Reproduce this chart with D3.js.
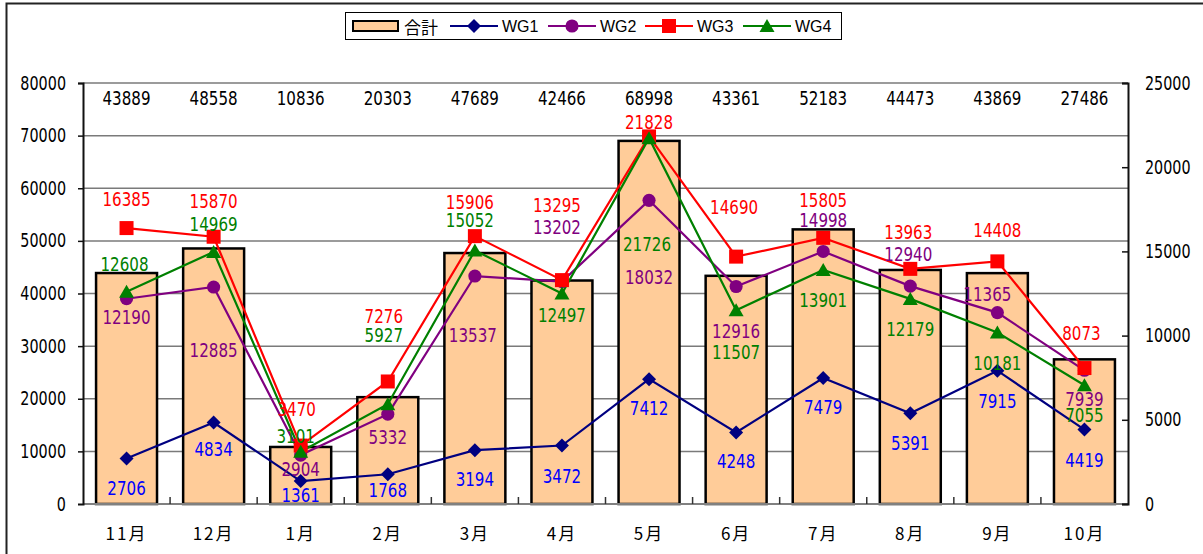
<!DOCTYPE html>
<html>
<head>
<meta charset="utf-8">
<script src="https://cdn.jsdelivr.net/npm/d3@7"></script>
<style>
  body { margin: 0; background: #fff; }
  svg { display: block; }
  .num {
    font-family: "DejaVu Sans Condensed", "DejaVu Sans", sans-serif;
    transform-box: fill-box;
    transform-origin: center;
    transform: scaleX(0.84);
  }
  .axL .num { transform-origin: right center; }
  .axR .num { transform-origin: left center; }
</style>
</head>
<body>
<div id="chart"></div>
<script>
// data
var months = ["11月", "12月", "1月", "2月", "3月", "4月", "5月", "6月", "7月", "8月", "9月", "10月"];
var total = [43889, 48558, 10836, 20303, 47689, 42466, 68998, 43361, 52183, 44473, 43869, 27486];
var wg1 = [2706, 4834, 1361, 1768, 3194, 3472, 7412, 4248, 7479, 5391, 7915, 4419];
var wg2 = [12190, 12885, 2904, 5332, 13537, 13202, 18032, 12916, 14998, 12940, 11365, 7939];
var wg3 = [16385, 15870, 3470, 7276, 15906, 13295, 21828, 14690, 15805, 13963, 14408, 8073];
var wg4 = [12608, 14969, 3101, 5927, 15052, 12497, 21726, 11507, 13901, 12179, 10181, 7055];
var leftTicks = [0, 10000, 20000, 30000, 40000, 50000, 60000, 70000, 80000];
var rightTicks = [0, 5000, 10000, 15000, 20000, 25000];

// label nudges (px from the point, label centre), hand placed like the original
var labelDy = {
    WG1: [30, 26, 14, 16, 29, 30, 29, 29, 29, 30, 30, 30],
    WG2: [18, 63, 14, 23, 59, -55, 77, 44, -31, -32, -19, 29],
    WG3: [-29, -36, -37, -66, -34, -75, -14, -50, -38, -37, -31, -35],
    WG4: [-28, -28, -16, -69, -31, 21, 106, 42, 30, 30, 30, 30]
};
var labelDx = {
    WG1: [0, 0, 0, 0, 0, 0, 0, 0, 0, 0, 0, 0],
    WG2: [0, 0, 0, 0, -2, -5, 0, 0, 0, -2, -10, 0],
    WG3: [0, 0, -4, -4, -5, -5, 0, -2, 0, -2, 0, -3],
    WG4: [-2, 0, -5, -4, -5, 0, -2, 0, 0, 0, 0, 0]
};

var series = [
    { name: "WG1", values: wg1, color: "#000080", text: "#0000ff", marker: "diamond" },
    { name: "WG2", values: wg2, color: "#800080", text: "#800080", marker: "circle" },
    { name: "WG3", values: wg3, color: "#ff0000", text: "#ff0000", marker: "square" },
    { name: "WG4", values: wg4, color: "#008000", text: "#008000", marker: "triangle" }
];

var width = 1203, height = 554;
var plot = { left: 83, right: 1128, top: 83, bottom: 504 };

var svg = d3.select("#chart").append("svg")
    .attr("width", width)
    .attr("height", height);

// outer chart frame
svg.append("rect")
    .attr("x", 6.5).attr("y", 3.5)
    .attr("width", width + 20).attr("height", height + 20)
    .attr("fill", "none").attr("stroke", "#222").attr("stroke-width", 2);

var x = d3.scaleBand()
    .domain(months)
    .range([plot.left, plot.right])
    .paddingInner(0.3)
    .paddingOuter(0.15);
var cx = function(m) { return x(m) + x.bandwidth() / 2; };

var yL = d3.scaleLinear().domain([0, 80000]).range([plot.bottom, plot.top]);
var yR = d3.scaleLinear().domain([0, 25000]).range([plot.bottom, plot.top]);

// gridlines
svg.append("g").selectAll("line")
    .data(leftTicks.filter(function(d) { return d > 0; }))
    .enter().append("line")
    .attr("x1", plot.left).attr("x2", plot.right)
    .attr("y1", function(d) { return yL(d); })
    .attr("y2", function(d) { return yL(d); })
    .attr("stroke", "#7a7a7a").attr("stroke-width", 1.5);

// bars
svg.append("g").selectAll("rect")
    .data(total)
    .enter().append("rect")
    .attr("x", function(d, i) { return x(months[i]); })
    .attr("y", function(d) { return yL(d); })
    .attr("width", x.bandwidth())
    .attr("height", function(d) { return plot.bottom - yL(d); })
    .attr("fill", "#ffcc99")
    .attr("stroke", "#000")
    .attr("stroke-width", 2.5);

// x axis line + inner ticks between categories
var step = x.step();
svg.append("line")
    .attr("x1", plot.left).attr("x2", plot.right)
    .attr("y1", plot.bottom).attr("y2", plot.bottom)
    .attr("stroke", "#808080").attr("stroke-width", 2);
svg.append("g").selectAll("line")
    .data(d3.range(1, months.length))
    .enter().append("line")
    .attr("x1", function(k) { return plot.left + k * step; })
    .attr("x2", function(k) { return plot.left + k * step; })
    .attr("y1", plot.bottom - 7).attr("y2", plot.bottom)
    .attr("stroke", "#333").attr("stroke-width", 1.5);

svg.append("g").selectAll("text")
    .data(months)
    .enter().append("text")
    .attr("x", function(d) { return cx(d); })
    .attr("y", 532)
    .attr("text-anchor", "middle")
    .attr("dominant-baseline", "central")
    .style("font-family", "'Noto Sans CJK JP', sans-serif")
    .style("font-size", "17px")
    .style("letter-spacing", "2px")
    .text(function(d) { return d; });

// left axis
var axL = svg.append("g")
    .attr("class", "axL")
    .attr("transform", "translate(" + plot.left + ",0)")
    .call(d3.axisLeft(yL).tickValues(leftTicks).tickSize(5).tickPadding(12).tickFormat(d3.format("d")));
// right axis
var axR = svg.append("g")
    .attr("class", "axR")
    .attr("transform", "translate(" + plot.right + ",0)")
    .call(d3.axisRight(yR).tickValues(rightTicks).tickSize(-6).tickPadding(17).tickFormat(d3.format("d")));
[axL, axR].forEach(function(ax) {
    ax.select(".domain").attr("stroke", "#111").attr("stroke-width", 2);
    ax.selectAll(".tick line").attr("stroke", "#111").attr("stroke-width", 1.5);
    ax.selectAll(".tick text")
        .attr("class", "num")
        .style("font-size", "19px")
        .attr("fill", "#000");
});
axL.selectAll(".tick").filter(function(d) { return d === 0; }).select("line").remove();

// total labels along the top
svg.append("g").selectAll("text")
    .data(total)
    .enter().append("text")
    .attr("class", "num")
    .attr("x", function(d, i) { return cx(months[i]); })
    .attr("y", plot.top + 15)
    .attr("text-anchor", "middle")
    .attr("dominant-baseline", "central")
    .style("font-size", "20px")
    .text(function(d) { return d; });

// marker shapes
function markerPath(type) {
    if (type === "diamond") return "M0,-7L7,0L0,7L-7,0Z";
    if (type === "square") return "M-7,-7H7V7H-7Z";
    if (type === "triangle") return "M0,-7L7.5,6L-7.5,6Z";
    return d3.symbol(d3.symbolCircle, 135)();
}

var line = d3.line()
    .x(function(d, i) { return cx(months[i]); })
    .y(function(d) { return yR(d); });

series.forEach(function(s) {
    svg.append("path")
        .datum(s.values)
        .attr("d", line)
        .attr("fill", "none")
        .attr("stroke", s.color)
        .attr("stroke-width", 2.2);
});
series.forEach(function(s) {
    svg.append("g").selectAll("path")
        .data(s.values)
        .enter().append("path")
        .attr("transform", function(d, i) { return "translate(" + cx(months[i]) + "," + yR(d) + ")"; })
        .attr("d", markerPath(s.marker))
        .attr("fill", s.color);
});
series.forEach(function(s) {
    svg.append("g").selectAll("text")
        .data(s.values)
        .enter().append("text")
        .attr("class", "num")
        .attr("x", function(d, i) { return cx(months[i]) + labelDx[s.name][i]; })
        .attr("y", function(d, i) { return yR(d) + labelDy[s.name][i]; })
        .attr("text-anchor", "middle")
        .attr("dominant-baseline", "central")
        .attr("fill", s.text)
        .style("font-size", "20px")
        .text(function(d) { return d; });
});

// legend
var lg = svg.append("g");
lg.append("rect")
    .attr("x", 345.5).attr("y", 12.5).attr("width", 496).attr("height", 27)
    .attr("fill", "#fff").attr("stroke", "#000").attr("stroke-width", 1);
lg.append("rect")
    .attr("x", 353).attr("y", 21).attr("width", 45).attr("height", 10)
    .attr("fill", "#ffcc99").attr("stroke", "#000").attr("stroke-width", 2);
lg.append("text")
    .attr("x", 404).attr("y", 26.5)
    .attr("dominant-baseline", "central")
    .style("font-family", "'Noto Sans CJK JP', sans-serif")
    .style("font-size", "17px")
    .text("合計");
var legendX = [450, 548, 645, 743];
series.forEach(function(s, i) {
    var lx = legendX[i];
    lg.append("line")
        .attr("x1", lx).attr("x2", lx + 48)
        .attr("y1", 26).attr("y2", 26)
        .attr("stroke", s.color).attr("stroke-width", 2);
    lg.append("path")
        .attr("transform", "translate(" + (lx + 24) + ",26)")
        .attr("d", markerPath(s.marker))
        .attr("fill", s.color);
    lg.append("text")
        .attr("x", lx + 52).attr("y", 26.5)
        .attr("dominant-baseline", "central")
        .style("font-family", "'Liberation Sans', Arial, sans-serif")
        .style("font-size", "16px")
        .text(s.name);
});
</script>
</body>
</html>
